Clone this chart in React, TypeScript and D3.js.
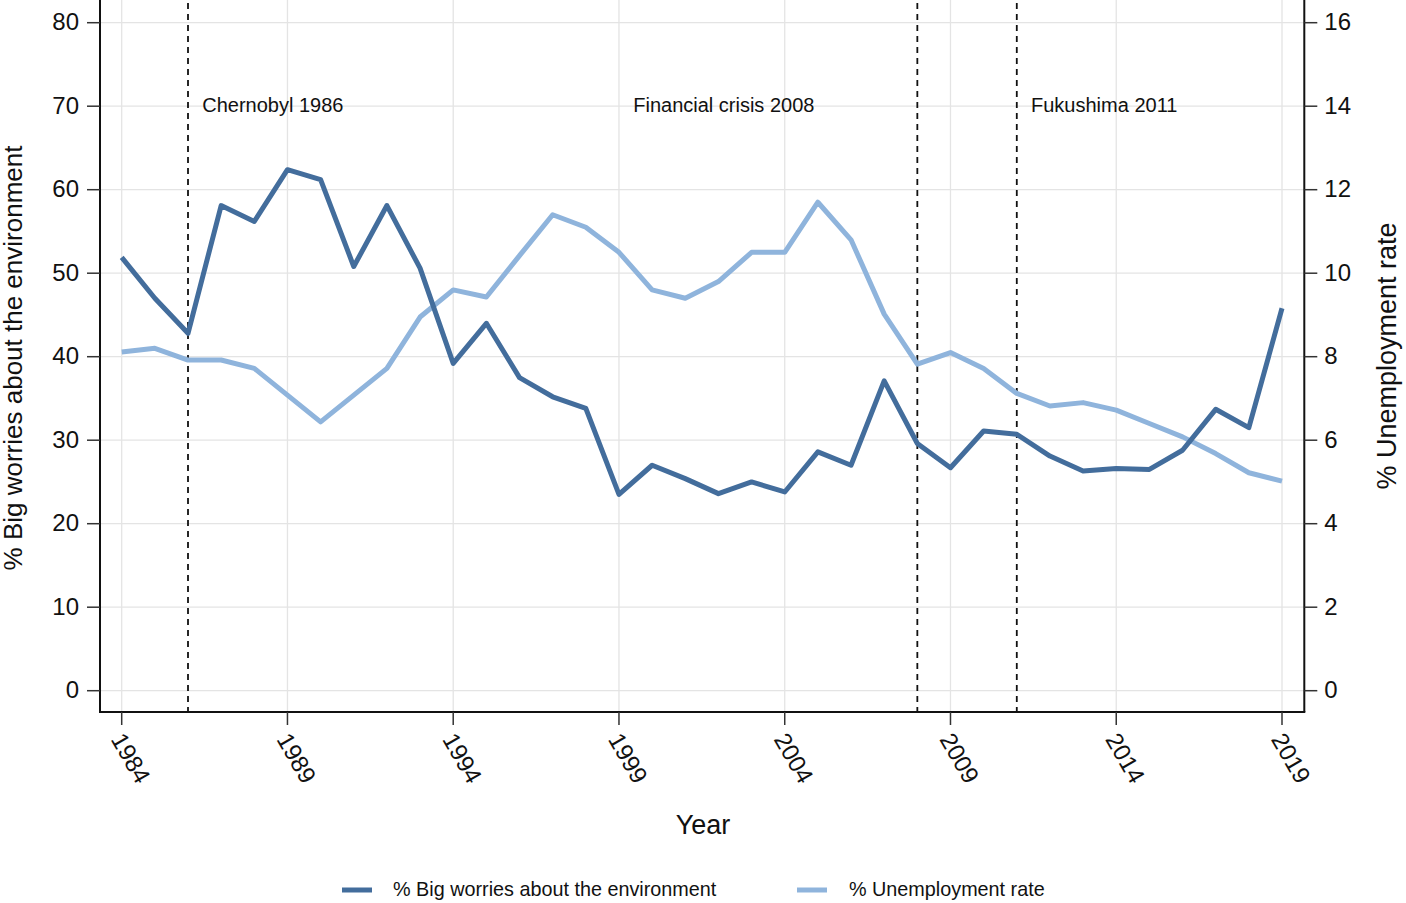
import React from "react";
import * as d3 from "d3";

const years: number[] = d3.range(1984, 2020);
const worries: number[] = [
  51.9, 47.0, 42.8, 58.1, 56.2, 62.4, 61.2, 50.8, 58.1, 50.6,
  39.2, 44.0, 37.5, 35.2, 33.8, 23.5, 27.0, 25.4, 23.6, 25.0,
  23.8, 28.6, 27.0, 37.1, 29.6, 26.7, 31.1, 30.7, 28.1, 26.3,
  26.6, 26.5, 28.8, 33.7, 31.5, 45.8,
];
const unemployment: number[] = [
  8.11, 8.2, 7.92, 7.92, 7.72, 7.08, 6.44, 7.08, 7.72, 8.95,
  9.6, 9.43, 10.42, 11.4, 11.1, 10.5, 9.6, 9.4, 9.8, 10.5,
  10.5, 11.7, 10.8, 9.02, 7.82, 8.1, 7.72, 7.12, 6.82, 6.9,
  6.72, 6.4, 6.08, 5.68, 5.22, 5.02,
];
const xTicks: number[] = [1984, 1989, 1994, 1999, 2004, 2009, 2014, 2019];
const leftTicks: number[] = [0, 10, 20, 30, 40, 50, 60, 70, 80];
const rightTicks: number[] = [0, 2, 4, 6, 8, 10, 12, 14, 16];
const events: { year: number; label: string }[] = [
  { year: 1986, label: "Chernobyl 1986" },
  { year: 2008, label: "Financial crisis 2008" },
  { year: 2011, label: "Fukushima 2011" },
];
const eventLabelYears: number[] = [1986.43, 1999.43, 2011.43];
const seriesNames: string[] = ["% Big worries about the environment", "% Unemployment rate"];

const DARK = "#436d9c";
const LIGHT = "#8fb4dc";
const FONT = "'Liberation Sans', Arial, Helvetica, sans-serif";

export default function App() {
  const W = 1406;
  const H = 903;
  const left = 100;
  const right = 1304.3;
  const top = 0;
  const bottom = 712;

  const x = d3.scaleLinear().domain([1984, 2019]).range([121.7, 1282]);
  const yL = d3.scaleLinear().domain([0, 80]).range([690.7, 22.7]);
  const yR = d3.scaleLinear().domain([0, 16]).range([690.7, 22.7]);

  const lineL = d3
    .line<number>()
    .x((_, i) => x(years[i]))
    .y((d) => yL(d));
  const lineR = d3
    .line<number>()
    .x((_, i) => x(years[i]))
    .y((d) => yR(d));

  return (
    <svg
      width={W}
      height={H}
      style={{ position: "absolute", left: 0, top: 0, background: "#fff" }}
      fontFamily={FONT}
    >
      <rect x={0} y={0} width={W} height={H} fill="#fff" />
      {/* gridlines */}
      {leftTicks.map((t) => (
        <line key={"gh" + t} x1={left} x2={right} y1={yL(t)} y2={yL(t)} stroke="#e4e4e4" strokeWidth={1.3} />
      ))}
      {xTicks.map((t) => (
        <line key={"gv" + t} x1={x(t)} x2={x(t)} y1={top} y2={bottom} stroke="#e4e4e4" strokeWidth={1.3} />
      ))}
      {/* event lines */}
      {events.map((e) => (
        <line
          key={"ev" + e.year}
          x1={x(e.year)}
          x2={x(e.year)}
          y1={top + 3}
          y2={bottom}
          stroke="#111"
          strokeWidth={1.8}
          strokeDasharray="6,5"
        />
      ))}
      {events.map((e, i) => (
        <text
          key={"evl" + e.year}
          x={x(eventLabelYears[i])}
          y={yL(70) + 1}
          dominantBaseline="middle"
          fontSize={20}
          fill="#111"
        >
          {e.label}
        </text>
      ))}
      {/* series */}
      <path d={lineR(unemployment) || ""} fill="none" stroke={LIGHT} strokeWidth={5} strokeLinejoin="round" />
      <path d={lineL(worries) || ""} fill="none" stroke={DARK} strokeWidth={5} strokeLinejoin="round" />
      {/* axes */}
      <line x1={left} x2={left} y1={top} y2={bottom} stroke="#111" strokeWidth={2} />
      <line x1={right} x2={right} y1={top} y2={bottom} stroke="#111" strokeWidth={2} />
      <line x1={left - 1} x2={right + 1} y1={bottom} y2={bottom} stroke="#111" strokeWidth={2} />
      {leftTicks.map((t) => (
        <g key={"lt" + t}>
          <line x1={left - 13} x2={left} y1={yL(t)} y2={yL(t)} stroke="#333" strokeWidth={1.5} />
          <text x={left - 21} y={yL(t) + 1} textAnchor="end" dominantBaseline="middle" fontSize={24} fill="#111">
            {t}
          </text>
        </g>
      ))}
      {rightTicks.map((t) => (
        <g key={"rt" + t}>
          <line x1={right} x2={right + 13} y1={yR(t)} y2={yR(t)} stroke="#333" strokeWidth={1.5} />
          <text x={right + 20} y={yR(t) + 1} textAnchor="start" dominantBaseline="middle" fontSize={24} fill="#111">
            {t}
          </text>
        </g>
      ))}
      {xTicks.map((t) => (
        <g key={"xt" + t}>
          <line x1={x(t)} x2={x(t)} y1={bottom} y2={bottom + 13} stroke="#333" strokeWidth={1.5} />
          <text
            transform={`translate(${x(t) - 6},${bottom + 24}) rotate(60)`}
            textAnchor="start"
            dominantBaseline="middle"
            fontSize={24}
            fill="#111"
          >
            {t}
          </text>
        </g>
      ))}
      {/* axis titles */}
      <text x={703} y={827} textAnchor="middle" dominantBaseline="middle" fontSize={27} fill="#111">
        Year
      </text>
      <text
        transform={`translate(15,${358}) rotate(-90)`}
        textAnchor="middle"
        dominantBaseline="middle"
        fontSize={26}
        fill="#111"
      >
        {seriesNames[0]}
      </text>
      <text
        transform={`translate(1389,${356}) rotate(-90)`}
        textAnchor="middle"
        dominantBaseline="middle"
        fontSize={27}
        fill="#111"
      >
        {seriesNames[1]}
      </text>
      {/* legend */}
      <line x1={342} x2={372} y1={890} y2={890} stroke={DARK} strokeWidth={5} />
      <text x={393} y={891} dominantBaseline="middle" fontSize={19.8} fill="#111">
        {seriesNames[0]}
      </text>
      <line x1={797} x2={827} y1={890} y2={890} stroke={LIGHT} strokeWidth={5} />
      <text x={849} y={891} dominantBaseline="middle" fontSize={19.8} fill="#111">
        {seriesNames[1]}
      </text>
    </svg>
  );
}
